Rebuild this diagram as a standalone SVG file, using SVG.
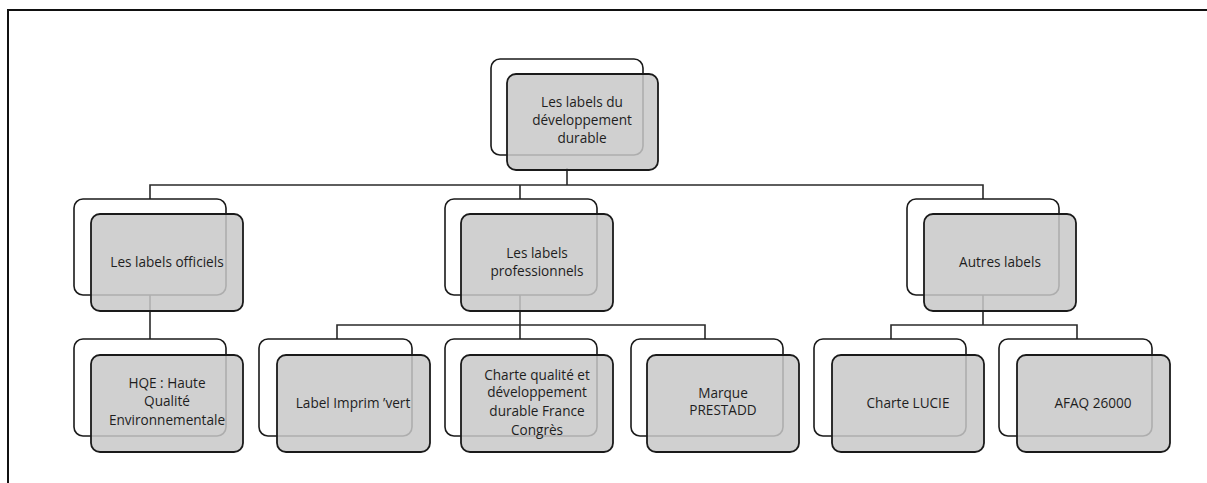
<svg xmlns="http://www.w3.org/2000/svg" width="1207" height="483" viewBox="0 0 1207 483">
<style>
.back{fill:#ffffff;stroke:#1a1a1a;stroke-width:1.6}
.front{fill:#c8c8c8;fill-opacity:0.85;stroke:#1a1a1a;stroke-width:1.8}
.conn{fill:none;stroke:#2a2a2a;stroke-width:1.6}
text{font-family:"Open Sans","Liberation Sans",sans-serif;font-size:13.6px;fill:#1e1e1e;text-anchor:middle}
</style>
<rect width="1207" height="483" fill="#ffffff"/>
<path d="M8,483 V10 H1207" fill="none" stroke="#111" stroke-width="2"/>
<g id="connectors">
<path class="conn" d="M567,168 V185 M150,199 V185 H983 V199 M520,185 V199"/>
<path class="conn" d="M150,295 V339"/>
<path class="conn" d="M520,295 V325 M337,339 V325 H705 V339 M520,325 V339"/>
<path class="conn" d="M983,295 V325 M891,339 V325 H1077 V339"/>
</g>
<g id="root">
<rect class="back" x="491" y="59" width="152" height="96" rx="9"/>
<rect class="front" x="507" y="74" width="151" height="96" rx="9"/>
<text x="582" y="107">Les labels du</text>
<text x="582" y="125">développement</text>
<text x="582" y="143">durable</text>
</g>
<g id="officiels">
<rect class="back" x="74" y="199" width="152" height="96" rx="9"/>
<rect class="front" x="91" y="214" width="152" height="97" rx="9"/>
<text x="167" y="267">Les labels officiels</text>
</g>
<g id="professionnels">
<rect class="back" x="445" y="199" width="152" height="96" rx="9"/>
<rect class="front" x="461" y="214" width="152" height="97" rx="9"/>
<text x="537" y="258">Les labels</text>
<text x="537" y="276">professionnels</text>
</g>
<g id="autres">
<rect class="back" x="907" y="199" width="152" height="96" rx="9"/>
<rect class="front" x="924" y="214" width="152" height="97" rx="9"/>
<text x="1000" y="267">Autres labels</text>
</g>
<g id="hqe">
<rect class="back" x="74" y="339" width="152" height="97" rx="9"/>
<rect class="front" x="91" y="355" width="152" height="97" rx="9"/>
<text x="167" y="388">HQE : Haute</text>
<text x="167" y="406">Qualité</text>
<text x="167" y="425">Environnementale</text>
</g>
<g id="imprimvert">
<rect class="back" x="259" y="339" width="153" height="97" rx="9"/>
<rect class="front" x="277" y="355" width="153" height="97" rx="9"/>
<text x="353" y="408">Label Imprim ’vert</text>
</g>
<g id="charte-fc">
<rect class="back" x="445" y="339" width="152" height="97" rx="9"/>
<rect class="front" x="461" y="355" width="152" height="97" rx="9"/>
<text x="537" y="380">Charte qualité et</text>
<text x="537" y="397">développement</text>
<text x="537" y="416">durable France</text>
<text x="537" y="435">Congrès</text>
</g>
<g id="prestadd">
<rect class="back" x="631" y="339" width="152" height="97" rx="9"/>
<rect class="front" x="647" y="355" width="152" height="97" rx="9"/>
<text x="723" y="398">Marque</text>
<text x="723" y="415">PRESTADD</text>
</g>
<g id="lucie">
<rect class="back" x="814" y="339" width="152" height="97" rx="9"/>
<rect class="front" x="832" y="355" width="152" height="97" rx="9"/>
<text x="908" y="408">Charte LUCIE</text>
</g>
<g id="afaq">
<rect class="back" x="999" y="339" width="153" height="97" rx="9"/>
<rect class="front" x="1017" y="355" width="153" height="97" rx="9"/>
<text x="1093" y="408">AFAQ 26000</text>
</g>
</svg>
